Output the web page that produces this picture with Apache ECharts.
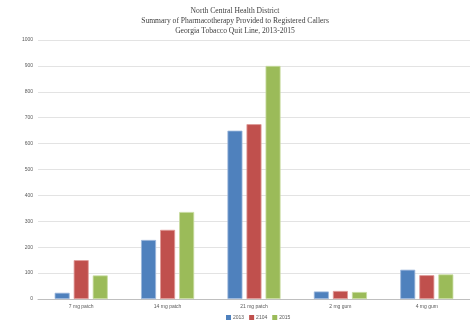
<!DOCTYPE html>
<html><head><meta charset="utf-8">
<script src="https://cdn.jsdelivr.net/npm/echarts@6/dist/echarts.min.js"></script>
<style>html,body{margin:0;padding:0;background:#fff}#c{width:470px;height:327px}</style>
</head><body><div id="c"></div>
<script>
const titleLines = ["North Central Health District","Summary of Pharmacotherapy Provided to Registered Callers","Georgia Tobacco Quit Line, 2013-2015"];
const categories = ["7 mg patch","14 mg patch","21 mg patch","2 mg gum","4 mg gum"];
const seriesNames = ["2013","2104","2015"];
const values2013 = [24, 228, 650, 29, 113];
const values2104 = [150, 267, 675, 31, 92];
const values2015 = [91, 336, 900, 27, 95];
const yTicks = [0,100,200,300,400,500,600,700,800,900,1000];
const colors = ["#4F81BD","#C0504D","#9BBB59"];
const borders = ["#9db8dc","#e09a98","#c8dca0"];
const allValues = [values2013, values2104, values2015];

const chart = echarts.init(document.getElementById('c'));
chart.setOption({
  animation:false,
  title:{text:titleLines.join('\n'),left:'center',top:1,
    textStyle:{fontFamily:'Liberation Serif',fontSize:7.6,fontWeight:'normal',color:'#404040',lineHeight:10}},
  grid:{left:38,right:-3,top:40,bottom:28,containLabel:false},
  legend:{bottom:2,left:221,itemWidth:5,itemHeight:5,itemGap:5,icon:'rect',
    textStyle:{fontSize:5,color:'#595959',fontFamily:'Liberation Sans',padding:[0,0,0,-3]},
    data:seriesNames.map(n=>({name:n,itemStyle:{borderWidth:0}}))},
  xAxis:{type:'category',data:categories,
    axisLine:{lineStyle:{color:'#bfbfbf',width:1}},axisTick:{show:false},
    axisLabel:{fontSize:5,color:'#595959',fontFamily:'Liberation Sans',margin:5}},
  yAxis:{type:'value',min:yTicks[0],max:yTicks[yTicks.length-1],interval:100,
    axisLine:{show:false},axisTick:{show:false},
    splitLine:{lineStyle:{color:'#e3e3e3',width:1}},
    axisLabel:{fontSize:5,color:'#595959',fontFamily:'Liberation Sans',margin:5,formatter:v=>String(v)}},
  series: seriesNames.map((n,i)=>({name:n,type:'bar',data:allValues[i],barWidth:15,barGap:'27%',
    itemStyle:{color:colors[i],borderColor:borders[i],borderWidth:0.8}}))
});
</script></body></html>
